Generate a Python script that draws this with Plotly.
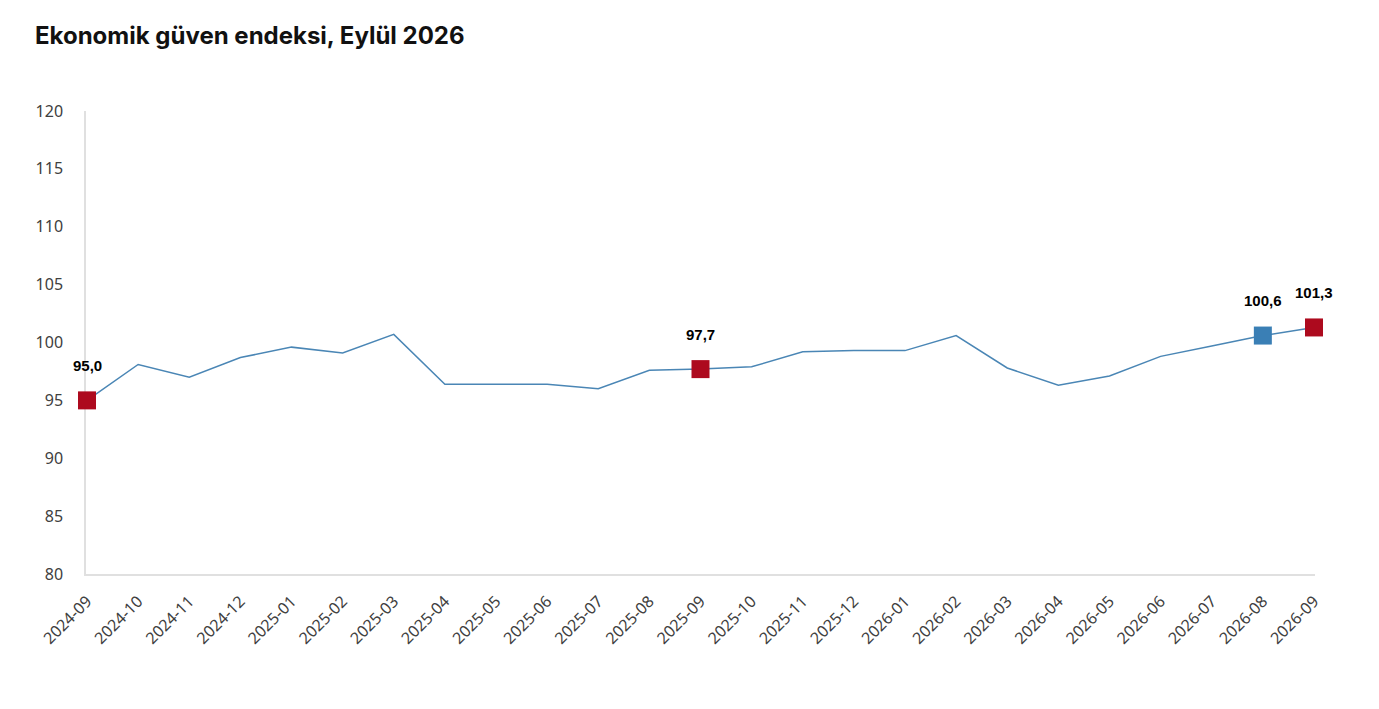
import plotly.graph_objects as go

months = ["2024-09", "2024-10", "2024-11", "2024-12", "2025-01", "2025-02", "2025-03",
          "2025-04", "2025-05", "2025-06", "2025-07", "2025-08", "2025-09", "2025-10",
          "2025-11", "2025-12", "2026-01", "2026-02", "2026-03", "2026-04", "2026-05",
          "2026-06", "2026-07", "2026-08", "2026-09"]
values = [95.0, 98.1, 97.0, 98.7, 99.6, 99.1, 100.7,
          96.4, 96.4, 96.4, 96.0, 97.6, 97.7, 97.9,
          99.2, 99.3, 99.3, 100.6, 97.8, 96.3, 97.1,
          98.8, 99.7, 100.6, 101.3]
red_months = ["2024-09", "2025-09", "2026-09"]
blue_months = ["2026-08"]
y_ticks = [80, 85, 90, 95, 100, 105, 110, 115, 120]

lookup = dict(zip(months, values))

fig = go.Figure()
fig.add_trace(go.Scatter(x=months, y=values, mode="lines",
                         line=dict(color="#4a86b5", width=1.5), hoverinfo="skip",
                         showlegend=False, cliponaxis=False))
fig.add_trace(go.Scatter(x=red_months, y=[lookup[m] for m in red_months], mode="markers",
                         marker=dict(symbol="square", size=18, color="#ad0a1e"),
                         showlegend=False, cliponaxis=False))
fig.add_trace(go.Scatter(x=blue_months, y=[lookup[m] for m in blue_months], mode="markers",
                         marker=dict(symbol="square", size=18, color="#3a7fb5"),
                         showlegend=False, cliponaxis=False))

for m in red_months + blue_months:
    fig.add_annotation(x=m, y=lookup[m], text=f"{lookup[m]:.1f}".replace(".", ","),
                       showarrow=False, yshift=35,
                       font=dict(family="Liberation Sans, Arial", size=15, color="#000000", weight="bold"))

fig.update_layout(
    width=1371, height=701,
    margin=dict(l=78, r=64, t=103, b=135),
    paper_bgcolor="white", plot_bgcolor="white",
    title=dict(text="<b>Ekonomik güven endeksi, Eylül 2026</b>", x=27 / 1371, xanchor="left",
               y=1 - 28 / 701, yanchor="middle",
               font=dict(family="Inter, Roboto, sans-serif", size=24, color="#111111")),
    xaxis=dict(type="category", tickangle=-45, showgrid=False, showline=True,
               linecolor="#e0e0e0", linewidth=1.5, ticks="", range=[-0.02, 24.02],
               ticklabelstandoff=10, layer="below traces",
               tickfont=dict(family="Noto Sans, Open Sans, sans-serif", size=16, color="#404040")),
    yaxis=dict(range=[80, 120], tickvals=y_ticks, showgrid=False, showline=True,
               linecolor="#e0e0e0", linewidth=1.5, ticks="", zeroline=False,
               ticklabelstandoff=18, layer="below traces",
               tickfont=dict(family="Noto Sans, Open Sans, sans-serif", size=16, color="#404040")),
)

fig.write_html("out.html")
